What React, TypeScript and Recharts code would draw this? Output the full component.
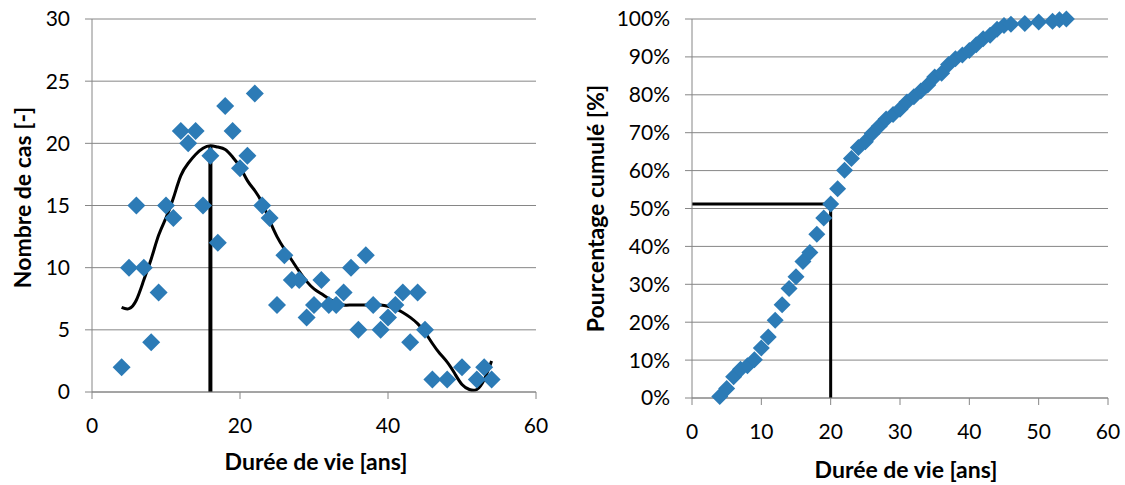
import React from "react";
import { ComposedChart, Scatter, Line, XAxis, YAxis, CartesianGrid, Label } from "recharts";

// ---------- data ----------
const AGES = [4, 5, 6, 7, 8, 9, 10, 11, 12, 13, 14, 15, 16, 17, 18, 19, 20, 21, 22, 23, 24, 25, 26, 27, 28, 29, 30, 31, 32, 33, 34, 35, 36, 37, 38, 39, 40, 41, 42, 43, 44, 45, 46, 48, 50, 52, 53, 54];
const CASES = [2, 10, 15, 10, 4, 8, 15, 14, 21, 20, 21, 15, 19, 12, 23, 21, 18, 19, 24, 15, 14, 7, 11, 9, 9, 6, 7, 9, 7, 7, 8, 10, 5, 11, 7, 5, 6, 7, 8, 4, 8, 5, 1, 1, 2, 1, 2, 1];
const CUMUL_PCT = [0.4, 2.5, 5.6, 7.6, 8.5, 10.1, 13.2, 16.1, 20.5, 24.6, 28.9, 32.0, 36.0, 38.4, 43.2, 47.5, 51.2, 55.2, 60.1, 63.2, 66.1, 67.6, 69.8, 71.7, 73.6, 74.8, 76.2, 78.1, 79.5, 81.0, 82.6, 84.7, 85.7, 88.0, 89.5, 90.5, 91.7, 93.2, 94.8, 95.7, 97.3, 98.3, 98.6, 98.8, 99.2, 99.4, 99.8, 100];

const TREND_X = [4, 5, 6, 7, 8, 9, 10, 11, 12, 13, 14, 15, 16, 17, 18, 19, 20, 21, 22, 23, 24, 25, 26, 27, 28, 29, 30, 31, 32, 33, 34, 35, 36, 37, 38, 39, 40, 41, 42, 43, 44, 45, 46, 47, 48, 49, 50, 51, 52, 53, 54];
const TREND_Y = [6.8, 6.7, 7.4, 9.0, 10.7, 12.6, 14.0, 15.6, 17.4, 18.4, 19.1, 19.6, 19.8, 19.7, 19.5, 18.9, 18.1, 17.0, 16.2, 15.2, 13.8, 12.5, 11.5, 10.6, 9.7, 8.9, 8.3, 7.9, 7.5, 7.2, 7.0, 7.0, 7.0, 7.0, 7.0, 7.0, 6.9, 6.7, 6.4, 6.0, 5.5, 4.8, 3.9, 3.1, 2.4, 1.5, 0.6, 0.2, 0.2, 1.0, 2.5];

const PEAK_AGE = 16;
const PEAK_CASES = 19.8;
const MEDIAN_AGE = 20;
const MEDIAN_PCT = 51.2;

const LEFT_X_TICKS = [0, 20, 40, 60];
const LEFT_Y_TICKS = [0, 5, 10, 15, 20, 25, 30];
const RIGHT_X_TICKS = [0, 10, 20, 30, 40, 50, 60];
const RIGHT_Y_TICKS = [0, 10, 20, 30, 40, 50, 60, 70, 80, 90, 100];

const LEFT_X_TITLE = "Durée de vie [ans]";
const LEFT_Y_TITLE = "Nombre de cas  [-]";
const RIGHT_X_TITLE = "Durée de vie [ans]";
const RIGHT_Y_TITLE = "Pourcentage cumulé  [%]";

// ---------- derived tables ----------
const scatterLeft = AGES.map((a, i) => ({ x: a, y: CASES[i] }));
const scatterRight = AGES.map((a, i) => ({ x: a, y: CUMUL_PCT[i] }));
const trend = TREND_X.map((a, i) => ({ x: a, y: TREND_Y[i] }));
const peakLine = [{ x: PEAK_AGE, y: 0 }, { x: PEAK_AGE, y: PEAK_CASES }];
const medianLine = [{ x: 0, y: MEDIAN_PCT }, { x: MEDIAN_AGE, y: MEDIAN_PCT }, { x: MEDIAN_AGE, y: 0 }];

// ---------- style ----------
const FONT = "Lato, 'Open Sans', sans-serif";
const BLUE = "#2C7BB6";
const GRID = "#868686";
const TICK_FONT = 21;
const TITLE_FONT = 23;

const diamond = (h: number) => (p: any) => {
  const { cx, cy } = p;
  if (cx == null || cy == null) return <g />;
  return <path d={`M${cx},${cy - h}L${cx + h},${cy}L${cx},${cy + h}L${cx - h},${cy}Z`} fill={BLUE} />;
};

const yTitle = (text: string, baselineX: number, shiftY: number) => (props: any) => {
  const vb = props.viewBox || {};
  const cy = vb.y + vb.height / 2 + shiftY;
  const bx = vb.x + baselineX;
  return (
    <text x={bx} y={cy} transform={`rotate(-90, ${bx}, ${cy})`} textAnchor="middle" fontFamily={FONT} fontWeight="bold" fontSize={TITLE_FONT} fill="#000">
      {text}
    </text>
  );
};

const xTitle = (text: string, below: number, shift: number) => (props: any) => {
  const vb = props.viewBox || {};
  return (
    <text x={vb.x + vb.width / 2 + shift} y={vb.y + below} textAnchor="middle" fontFamily={FONT} fontWeight="bold" fontSize={TITLE_FONT} fill="#000">
      {text}
    </text>
  );
};

const tickStyle = { fill: "#000", fontSize: TICK_FONT, fontFamily: FONT };

function LeftChart() {
  return (
    <ComposedChart width={560} height={485} margin={{ top: 19, right: 24, bottom: 0, left: 0 }}>
      <CartesianGrid vertical={false} stroke={GRID} strokeWidth={1} />
      <XAxis type="number" dataKey="x" domain={[0, 60]} ticks={LEFT_X_TICKS} interval={0} height={93}
        tickSize={7} tickMargin={19} axisLine={{ stroke: GRID }} tickLine={{ stroke: GRID }} tick={tickStyle}>
        <Label content={xTitle(LEFT_X_TITLE, 78, 2)} />
      </XAxis>
      <YAxis type="number" dataKey="y" domain={[0, 30]} ticks={LEFT_Y_TICKS} interval={0} width={92}
        tickSize={7} tickMargin={15} axisLine={{ stroke: GRID }} tickLine={{ stroke: GRID }} tick={tickStyle}>
        <Label content={yTitle(LEFT_Y_TITLE, 31, -8)} />
      </YAxis>
      <Scatter data={scatterLeft} dataKey="y" shape={diamond(9)} isAnimationActive={false} />
      <Line data={trend} dataKey="y" type="natural" stroke="#000" strokeWidth={3} dot={false} activeDot={false} isAnimationActive={false} />
      <Line data={peakLine} dataKey="y" type="linear" stroke="#000" strokeWidth={4} dot={false} activeDot={false} isAnimationActive={false} />
    </ComposedChart>
  );
}

function RightChart() {
  return (
    <ComposedChart width={565} height={485} margin={{ top: 19, right: 17, bottom: 0, left: 0 }}>
      <CartesianGrid vertical={false} stroke={GRID} strokeWidth={1} />
      <XAxis type="number" dataKey="x" domain={[0, 60]} ticks={RIGHT_X_TICKS} interval={0} height={87}
        tickSize={7} tickMargin={19} axisLine={{ stroke: GRID }} tickLine={{ stroke: GRID }} tick={tickStyle}>
        <Label content={xTitle(RIGHT_X_TITLE, 80, 6)} />
      </XAxis>
      <YAxis type="number" dataKey="y" domain={[0, 100]} ticks={RIGHT_Y_TICKS} interval={0} width={132}
        tickSize={7} tickMargin={15} tickFormatter={(v: number) => `${v}%`} axisLine={{ stroke: GRID }} tickLine={{ stroke: GRID }} tick={tickStyle}>
        <Label content={yTitle(RIGHT_Y_TITLE, 44, 0)} />
      </YAxis>
      <Scatter data={scatterRight} dataKey="y" shape={diamond(8.5)} isAnimationActive={false} />
      <Line data={medianLine} dataKey="y" type="linear" stroke="#000" strokeWidth={3} dot={false} activeDot={false} isAnimationActive={false} />
    </ComposedChart>
  );
}

export default function App() {
  return (
    <div style={{ position: "fixed", left: 0, top: 0, width: 1125, height: 485, background: "#fff", overflow: "hidden" }}>
      <div style={{ position: "absolute", left: 0, top: 0 }}>
        <LeftChart />
      </div>
      <div style={{ position: "absolute", left: 560, top: 0 }}>
        <RightChart />
      </div>
    </div>
  );
}
